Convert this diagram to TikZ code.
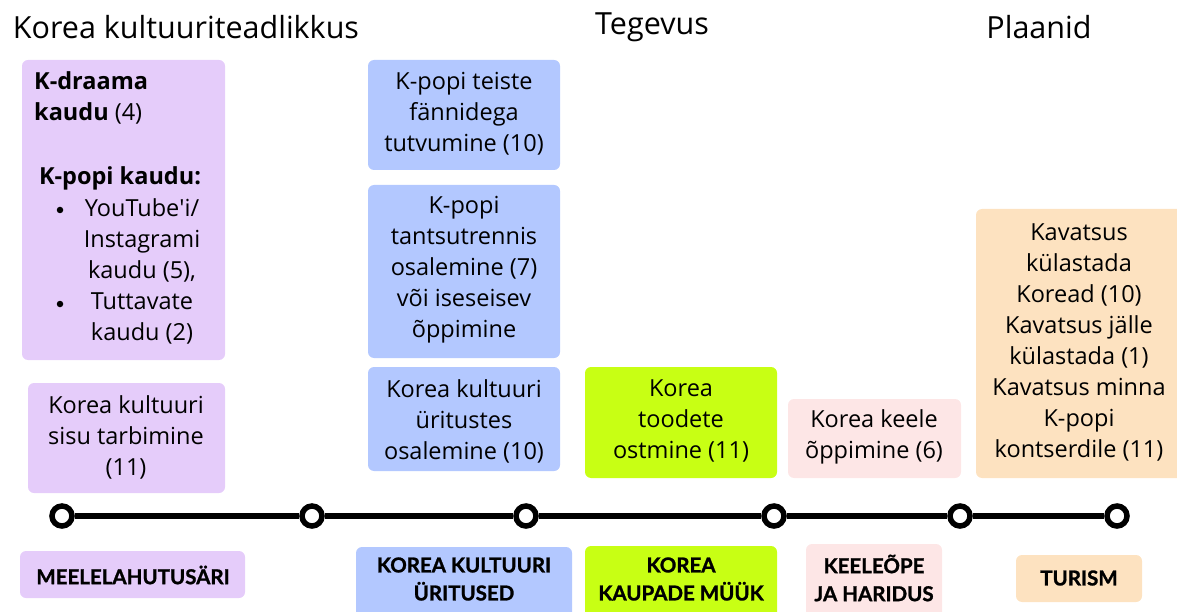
\documentclass[tikz,border=0pt]{standalone}
\usepackage{fontspec}
\setmainfont{Open Sans}
\newfontfamily\labfont[BoldFeatures={FakeBold=1.2}]{Lato}
\definecolor{cpurple}{HTML}{E5CCFA}
\definecolor{cblue}{HTML}{B3C8FF}
\definecolor{cgreen}{HTML}{C8FF14}
\definecolor{cpink}{HTML}{FDE6E6}
\definecolor{corange}{HTML}{FDE2C0}
\tikzset{
  box/.style={inner sep=0pt, align=center, font=\fontsize{23.5}{31}\selectfont},
  lab/.style={inner sep=0pt, align=center, font=\labfont\bfseries\fontsize{20.5}{28}\selectfont},
  head/.style={font=\fontsize{30.5}{34}\selectfont, anchor=center},
  dot/.style={circle, draw=black, fill=white, line width=5.5pt, minimum size=20pt, inner sep=0pt},
  bul/.style={circle, fill=black, inner sep=0pt, minimum size=6.5pt},
}
\begin{document}
\begin{tikzpicture}[x=1pt,y=-1pt]
\useasboundingbox (0,0) rectangle (1177,612);
% headings
\node[head] (h1) at (186,27) {Korea kultuuriteadlikkus};
\node[head] (h2) at (652,27) {Tegevus};
\node[head] (h3) at (1039,27) {Plaanid};
% box fills
\fill[cpurple, rounded corners=6pt] (22,60) rectangle (225,360);
\fill[cpurple, rounded corners=6pt] (28,383) rectangle (225,493);
\fill[cblue, rounded corners=6pt] (368,60) rectangle (560,170);
\fill[cblue, rounded corners=6pt] (368,185) rectangle (560,358);
\fill[cblue, rounded corners=6pt] (368,367) rectangle (560,471);
\fill[cgreen, rounded corners=6pt] (585,367) rectangle (777,478);
\fill[cpink, rounded corners=6pt] (788,399) rectangle (961,478);
\fill[corange, rounded corners=6pt] (976,209) rectangle (1183,478);
% texts
\node[box, anchor=west, align=left] (b1a) at (34,98) {\textbf{K-draama}\\\textbf{kaudu} (4)};
\node[box] (b1b) at (120,178) {\textbf{K-popi kaudu:}};
\node[bul] (bu1) at (60,210) {};
\node[bul] (bu2) at (60,304) {};
\node[box] (b1d) at (142,271) {YouTube\textquotesingle i/\\Instagrami\\kaudu (5),\\Tuttavate\\kaudu (2)};
\node[box] (b2) at (126,437) {Korea kultuuri\\sisu tarbimine\\(11)};
\node[box] (b3) at (464,114) {K-popi teiste\\fännidega\\tutvumine (10)};
\node[box] (b4) at (464,270) {K-popi\\tantsutrennis\\osalemine (7)\\või iseseisev\\õppimine};
\node[box] (b5) at (464,421) {Korea kultuuri\\üritustes\\osalemine (10)};
\node[box] (b6) at (681,421) {Korea\\toodete\\ostmine (11)};
\node[box] (b7) at (874,437) {Korea keele\\õppimine (6)};
\node[box] (b8) at (1079,342) {Kavatsus\\külastada\\Koread (10)\\Kavatsus jälle\\külastada (1)\\Kavatsus minna\\K-popi\\kontserdile (11)};
% timeline
\node[dot] (d1) at (62,516) {};
\node[dot] (d2) at (312,516) {};
\node[dot] (d3) at (526,516) {};
\node[dot] (d4) at (774,516) {};
\node[dot] (d5) at (960,516) {};
\node[dot] (d6) at (1117,516) {};
\draw[line width=6pt] (d1) -- (d2) (d2) -- (d3) (d3) -- (d4) (d4) -- (d5) (d5) -- (d6);
% bottom labels
\fill[cpurple, rounded corners=6pt] (20,551) rectangle (245,598);
\node[lab] (l1) at (133,575) {MEELELAHUTUSÄRI};
\fill[cblue, rounded corners=6pt] (356,547) rectangle (572,620);
\node[lab] (l2) at (464,579) {KOREA KULTUURI\\ÜRITUSED};
\fill[cgreen, rounded corners=6pt] (585,546) rectangle (777,620);
\node[lab] (l3) at (681,579) {KOREA\\KAUPADE MÜÜK};
\fill[cpink, rounded corners=6pt] (806,544) rectangle (942,620);
\node[lab] (l4) at (874,578) {KEELEÕPE\\JA HARIDUS};
\fill[corange, rounded corners=6pt] (1016,555) rectangle (1142,602);
\node[lab] (l5) at (1079,578) {TURISM};
\end{tikzpicture}
\end{document}
